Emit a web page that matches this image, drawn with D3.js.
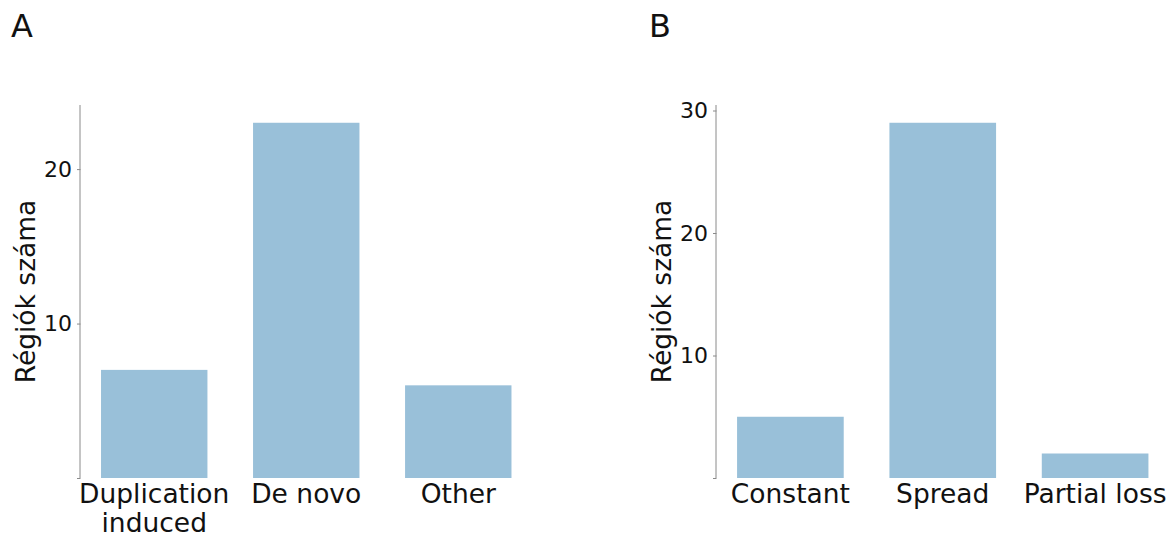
<!DOCTYPE html>
<html>
<head>
<meta charset="utf-8">
<script src="https://cdn.jsdelivr.net/npm/d3@7"></script>
<style>
  html, body { margin: 0; padding: 0; background: #fff; }
  svg { display: block; font-family: "DejaVu Sans", sans-serif; }
</style>
</head>
<body>
<svg id="chart" width="1170" height="535"></svg>
<script>
// Panel A: origin of regions
const originCategories = [["Duplication", "induced"], ["De novo"], ["Other"]];
const originCounts = [7, 23, 6];
const originTicks = [0, 10, 20];

// Panel B: conservation pattern
const patternCategories = [["Constant"], ["Spread"], ["Partial loss"]];
const patternCounts = [5, 29, 2];
const patternTicks = [0, 10, 20, 30];

const yLabel = "Régiók száma";
const barColor = "#99c0d9";
const axisColor = "#8a8a8a";

const svg = d3.select("#chart");

function drawPanel(opts) {
  const { letter, letterX, left, right, top, bottom, cats, counts, ticks, labelX } = opts;
  const g = svg.append("g");

  const n = counts.length;
  // band layout: bar width 0.7 of step, 0.485 step padding on each side
  const step = (right - left) / (n - 1 + 2 * 0.485);
  const x = i => left + (0.485 + i) * step;
  const bw = step * 0.7;

  const ymax = d3.max(counts) * 1.05;
  const y = d3.scaleLinear().domain([0, ymax]).range([bottom, top]);

  g.selectAll("rect.bar").data(counts).join("rect")
    .attr("class", "bar")
    .attr("x", (d, i) => x(i) - bw / 2)
    .attr("width", bw)
    .attr("y", d => y(d))
    .attr("height", d => y(0) - y(d))
    .attr("fill", barColor);

  const axis = d3.axisLeft(y)
    .tickValues(ticks)
    .tickSize(3.5)
    .tickPadding(5)
    .tickFormat(d => d === 0 ? "" : d3.format("d")(d));

  const ax = g.append("g").attr("transform", `translate(${left},0)`).call(axis);
  ax.select(".domain").attr("stroke", axisColor).attr("stroke-width", 1)
    .attr("d", `M-0.5,${bottom}V${top}`);
  ax.selectAll(".tick line").attr("stroke", axisColor);
  ax.selectAll(".tick text")
    .attr("fill", "#111")
    .style("font-size", "22px")
    .style("font-family", "DejaVu Sans, sans-serif");

  // category labels
  cats.forEach((lines, i) => {
    const t = g.append("text")
      .attr("x", x(i))
      .attr("y", bottom + 25)
      .attr("text-anchor", "middle")
      .attr("fill", "#111")
      .style("font-size", "26.5px");
    lines.forEach((ln, j) => {
      t.append("tspan").attr("x", x(i)).attr("dy", j === 0 ? 0 : 29).text(ln);
    });
  });

  // y label
  g.append("text")
    .attr("transform", `translate(${labelX},${(top + bottom) / 2}) rotate(-90)`)
    .attr("text-anchor", "middle")
    .attr("fill", "#111")
    .style("font-size", "26.5px")
    .text(yLabel);

  // panel letter
  svg.append("text")
    .attr("x", letterX)
    .attr("y", 37)
    .attr("fill", "#111")
    .style("font-size", "32px")
    .text(letter);
}

drawPanel({
  letter: "A", letterX: 11,
  left: 80.5, right: 532, top: 105, bottom: 478,
  cats: originCategories, counts: originCounts, ticks: originTicks,
  labelX: 35
});

drawPanel({
  letter: "B", letterX: 649,
  left: 716.5, right: 1169, top: 105, bottom: 478,
  cats: patternCategories, counts: patternCounts, ticks: patternTicks,
  labelX: 671
});
</script>
</body>
</html>
